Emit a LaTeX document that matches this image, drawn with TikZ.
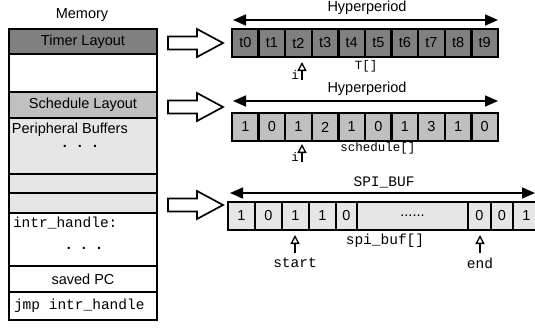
\documentclass[tikz,border=0pt]{standalone}
\usepackage{fontspec}
\setmainfont{Liberation Sans}
\setmonofont{Liberation Mono}
\usetikzlibrary{arrows.meta}

\definecolor{shadedark}{HTML}{808080}
\definecolor{shademid}{HTML}{C0C0C0}
\definecolor{shadelight}{HTML}{E6E6E6}

\begin{document}
\begin{tikzpicture}[x=1pt,y=-1pt,
  every node/.style={font=\fontsize{14.5}{16}\selectfont, inner sep=0pt, outer sep=0pt},
  monotext/.style={font=\ttfamily\fontsize{14.5}{16}\selectfont},
  smallmono/.style={font=\ttfamily\fontsize{12.5}{14}\selectfont},
  memrow/.style={draw, line width=2.2pt, rectangle, minimum width=148pt, anchor=north west},
  cellbox/.style={draw, line width=2.3pt, rectangle, minimum height=28pt, anchor=north west},
  dimarrow/.style={line width=1.7pt, {Triangle[length=13pt,width=11pt]}-{Triangle[length=13pt,width=11pt]}},
  ptr/.style={line width=1.3pt, -{Triangle[open, length=9pt, width=9pt]}},
  dots/.style={font=\bfseries\fontsize{14.5}{16}\selectfont},
  barrow/.pic={
    \draw[line width=1.7pt, fill=white]
      (0,-6.5) -- (29,-6.5) -- (29,-14) -- (55,0) -- (29,14) -- (29,6.5) -- (0,6.5) -- cycle;
  }
]
\useasboundingbox (0,0) rectangle (535,327);

% ---------- memory column ----------
\node at (82,15) {Memory};
\node[memrow, fill=shadedark, minimum height=25pt] (timer) at (9,29) {Timer Layout};
\node[memrow, fill=white, minimum height=38pt] (blank) at (9,54) {};
\node[memrow, fill=shademid, minimum height=26pt] (sched) at (9,92) {Schedule Layout};
\node[memrow, fill=shadelight, minimum height=56pt] (periph) at (9,118) {};
\node[memrow, fill=shadelight, minimum height=19pt] (bufa) at (9,174) {};
\node[memrow, fill=shadelight, minimum height=20pt] (bufb) at (9,193) {};
\node[memrow, fill=white, minimum height=53pt] (handler) at (9,213) {};
\node[memrow, fill=white, minimum height=26pt] (savedpc) at (9,266) {saved PC};
\node[memrow, fill=white, minimum height=28pt] (jmp) at (9,292) {};

\node[anchor=west] (periphtext) at (12,130) {Peripheral Buffers};
\node[dots] (periphdots) at (80,146) {.\hspace{11pt}.\hspace{11pt}.};
\node[monotext, anchor=west] (handlertext) at (13,223) {intr\_handle:};
\node[dots] (handlerdots) at (84,248) {.\hspace{11pt}.\hspace{11pt}.};
\node[monotext, anchor=west] (jmptext) at (14,306) {jmp intr\_handle};

% ---------- block arrows ----------
\pic at (168,43) {barrow};
\pic at (168,107) {barrow};
\pic at (168,205) {barrow};

% ---------- timer array T[] ----------
\coordinate (h1l) at (233,20);
\coordinate (h1r) at (498,20);
\draw[dimarrow] (h1l) -- (h1r);
\node (hyper1) at (367,8) {Hyperperiod};
\foreach \i in {0,...,9}
  \node[cellbox, fill=shadedark, minimum width=26.6pt] (T\i) at ({232+26.6*\i},29) {t\i};
\coordinate (ti) at (302,80);
\draw[ptr] (ti) -- ++(0,-18);
\node[smallmono] (tilabel) at (295,75) {i};
\node[smallmono] (tname) at (366,66) {T[]};

% ---------- schedule array ----------
\coordinate (h2l) at (233,101);
\coordinate (h2r) at (498,101);
\draw[dimarrow] (h2l) -- (h2r);
\node (hyper2) at (367,89) {Hyperperiod};
\foreach \v [count=\i from 0] in {1,0,1,2,1,0,1,3,1,0}
  \node[cellbox, fill=shademid, minimum width=26.6pt] (S\i) at ({232+26.6*\i},113) {\v};
\coordinate (si) at (302,162);
\draw[ptr] (si) -- ++(0,-18);
\node[smallmono] (silabel) at (295,157) {i};
\node[smallmono] (sname) at (378,148) {schedule[]};

% ---------- SPI buffer ----------
\coordinate (h3l) at (230,193);
\coordinate (h3r) at (535,193);
\draw[dimarrow] (h3l) -- (h3r);
\node[monotext] (spiname) at (384,182) {SPI\_BUF};
\node[cellbox, fill=shadelight, minimum width=27pt] (B0) at (228,202) {1};
\node[cellbox, fill=shadelight, minimum width=27pt] (B1) at (255,202) {0};
\node[cellbox, fill=shadelight, minimum width=27pt] (B2) at (282,202) {1};
\node[cellbox, fill=shadelight, minimum width=27pt] (B3) at (309,202) {1};
\node[cellbox, fill=shadelight, minimum width=21pt] (B4) at (336,202) {0};
\node[cellbox, fill=shadelight, minimum width=111pt] (B5) at (357,202) {......};
\node[cellbox, fill=shadelight, minimum width=23pt] (B6) at (468,202) {0};
\node[cellbox, fill=shadelight, minimum width=22pt] (B7) at (491,202) {0};
\node[cellbox, fill=shadelight, minimum width=27pt] (B8) at (513,202) {1};
\coordinate (startp) at (295,253);
\draw[ptr] (startp) -- ++(0,-18);
\node[monotext] (startlabel) at (295,263) {start};
\coordinate (endp) at (480,253);
\draw[ptr] (endp) -- ++(0,-18);
\node[monotext] (endlabel) at (480,263) {end};
\node[monotext] (bufname) at (385,241) {spi\_buf[]};
\end{tikzpicture}
\end{document}
